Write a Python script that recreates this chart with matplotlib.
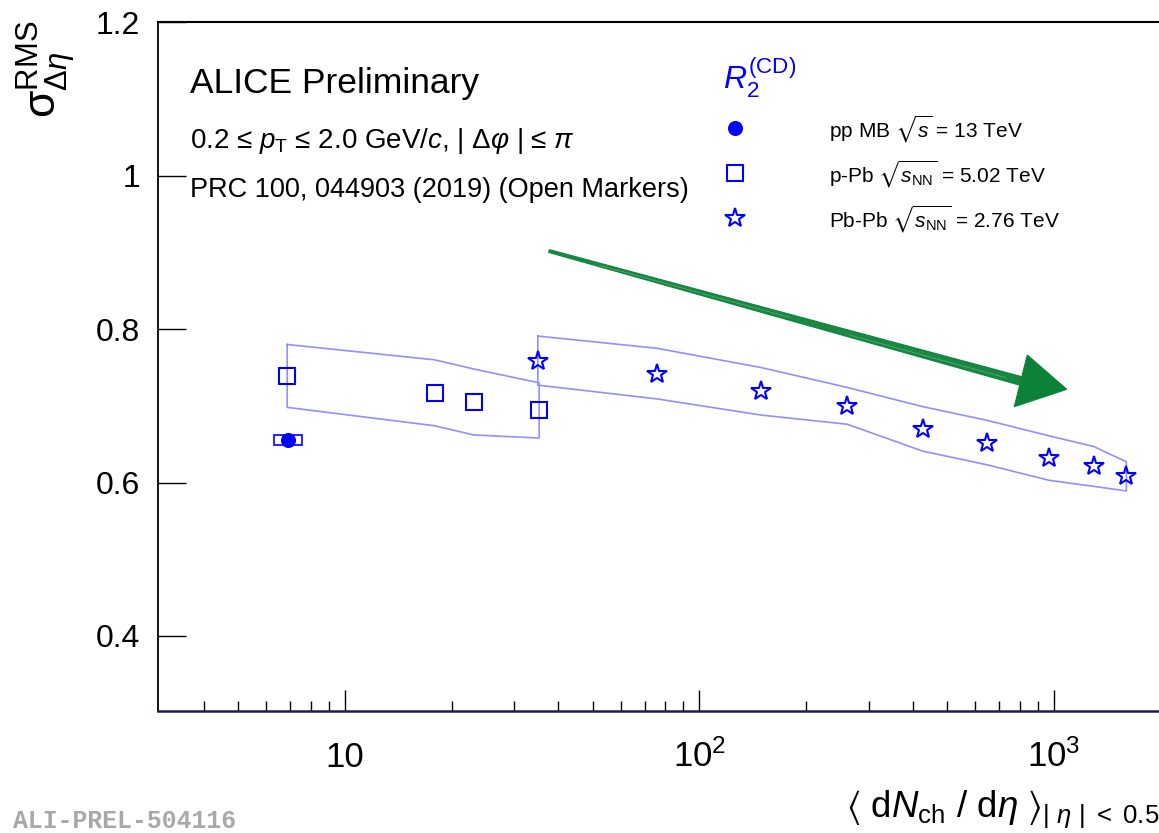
import matplotlib
matplotlib.use("Agg")
import matplotlib.pyplot as plt
from matplotlib.ticker import FixedLocator, NullLocator
from matplotlib.patches import Rectangle, Polygon
from matplotlib.lines import Line2D

# ---- data -------------------------------------------------------------
pp_x = [6.92]
pp_y = [0.655]
pp_sys = [0.0066]

ppb_x = [6.87, 17.9, 23.1, 35.3]
ppb_y = [0.739, 0.717, 0.705, 0.694]
ppb_sys = [0.041, 0.043, 0.043, 0.036]

pbpb_x = [35, 76, 149, 261, 426, 649, 966, 1294, 1601]
pbpb_y = [0.759, 0.742, 0.719, 0.700, 0.670, 0.652, 0.632, 0.621, 0.608]
pbpb_sys = [0.032, 0.033, 0.031, 0.024, 0.029, 0.029, 0.029, 0.026, 0.019]

x_major = [10, 100, 1000]
x_major_labels = ["10", r"$10^{2}$", r"$10^{3}$"]
x_minor = [4, 5, 6, 7, 8, 9, 20, 30, 40, 50, 60, 70, 80, 90,
           200, 300, 400, 500, 600, 700, 800, 900]
y_major = [0.4, 0.6, 0.8, 1.0, 1.2]
y_major_labels = ["0.4", "0.6", "0.8", "1", "1.2"]

legend_labels = [r"pp MB $\sqrt{s}$ = 13 TeV",
                 r"p-Pb $\sqrt{s_{\rm NN}}$ = 5.02 TeV",
                 r"Pb-Pb $\sqrt{s_{\rm NN}}$ = 2.76 TeV"]

# ---- style ------------------------------------------------------------
plt.rcParams["font.family"] = ["Liberation Sans", "DejaVu Sans"]
plt.rcParams["mathtext.fontset"] = "custom"
plt.rcParams["mathtext.rm"] = "Liberation Sans"
plt.rcParams["mathtext.it"] = "Liberation Sans:italic"
plt.rcParams["mathtext.bf"] = "Liberation Sans:bold"
plt.rcParams["mathtext.sf"] = "Liberation Sans"
plt.rcParams["mathtext.fallback"] = "stixsans"

W, H = 1159, 833
BLUE = "#0000ff"
BAND = "#9090ff"
GREEN = "#0b8238"

fig = plt.figure(figsize=(W / 100, H / 100), dpi=100)
ax_l, ax_r, ax_t, ax_b = 158, 1159, 22.3, 711
ax = fig.add_axes([ax_l / W, 1 - ax_b / H, (ax_r - ax_l) / W, (ax_b - ax_t) / H])


def fpx(x, y):
    """Pixel position (origin top-left) to figure fraction."""
    return x / W, 1 - y / H


ax.set_xscale("log")
ax.set_xlim(2.968, 1979)
ax.set_ylim(0.302, 1.2002)


def band(xs, ys, sys):
    """Open outline of the systematic-uncertainty band."""
    up = [y + s for y, s in zip(ys, sys)]
    lo = [y - s for y, s in zip(ys, sys)]
    px = list(xs) + list(xs[::-1]) + [xs[0]]
    py = up + lo[::-1] + [up[0]]
    ax.plot(px, py, color=BAND, lw=1.2, zorder=2)


band(ppb_x, ppb_y, ppb_sys)
band(pbpb_x, pbpb_y, pbpb_sys)

# pp systematic box
for x, y, s in zip(pp_x, pp_y, pp_sys):
    ax.add_patch(Rectangle((x * 0.91, y - s), x * 0.18, 2 * s,
                           fill=False, edgecolor=BLUE, lw=1.2, zorder=3))

ms_pp = dict(marker="o", ms=9.8, color=BLUE, mfc=BLUE, mec=BLUE, ls="none", zorder=5)
ms_ppb = dict(marker="s", ms=11.8, color=BLUE, mfc="none", mec=BLUE, mew=1.5, ls="none", zorder=5)
ms_pbpb = dict(marker="*", ms=15, color=BLUE, mfc="none", mec=BLUE, mew=1.5, ls="none", zorder=5)

ax.plot(pp_x, pp_y, **ms_pp)
ax.plot(ppb_x, ppb_y, **ms_ppb)
ax.plot(pbpb_x, pbpb_y, **ms_pbpb)

# ---- axes decoration --------------------------------------------------
ax.spines["right"].set_visible(False)
ax.spines["top"].set_color("black")
ax.spines["top"].set_linewidth(1.5)
ax.spines["left"].set_color("black")
ax.spines["left"].set_linewidth(1.3)
ax.spines["bottom"].set_color("#1c1c50")
ax.spines["bottom"].set_linewidth(1.8)

ax.xaxis.set_major_locator(FixedLocator(x_major))
ax.xaxis.set_minor_locator(FixedLocator(x_minor))
ax.set_xticklabels(x_major_labels)
ax.xaxis.set_minor_formatter(plt.NullFormatter())
ax.yaxis.set_major_locator(FixedLocator(y_major))
ax.yaxis.set_minor_locator(NullLocator())
ax.set_yticklabels(y_major_labels)

ax.tick_params(axis="x", which="major", direction="in", length=15, width=1.0,
               labelsize=25, pad=40.3, top=False)
ax.tick_params(axis="x", which="minor", direction="in", length=7.5, width=1.0, top=False)
ax.tick_params(axis="y", which="major", direction="in", length=20, width=1.0,
               labelsize=23, pad=13, right=False)
for t in ax.xaxis.get_major_ticks():
    t.label1.set_verticalalignment("baseline")

# axis titles
fig.text(*fpx(47, 20), r"${\rm \sigma}^{\rm RMS}_{\Delta\eta}$", rotation=90,
         ha="center", va="top", fontsize=32)
fig.text(*fpx(1159, 817),
         r"$\langle\ {\rm d}N_{\rm ch}\ /\ {\rm d}\eta\ \rangle_{|\ \eta\ |\ <\ 0.5}$",
         ha="right", va="baseline", fontsize=26.5)

# header texts
fig.text(*fpx(190, 93.3), "ALICE Preliminary", fontsize=25.5, va="baseline")
fig.text(*fpx(190, 148.3),
         r"0.2 ≤ $p_{\rm T}$ ≤ 2.0 GeV/$c$, | $\Delta\varphi$ | ≤ $\pi$",
         fontsize=20, va="baseline")
fig.text(*fpx(190, 197.3), "PRC 100, 044903 (2019) (Open Markers)",
         fontsize=19.5, va="baseline")

# legend
fig.text(*fpx(723, 89.3), r"$R_{2}^{\rm (CD)}$", color=BLUE, fontsize=23, va="baseline")
leg_rows = [127.5, 172.5, 217.5]
for yrow, style, label in zip(leg_rows, [ms_pp, ms_ppb, ms_pbpb], legend_labels):
    lx, ly = fpx(735, yrow)
    fig.add_artist(Line2D([lx], [ly], transform=fig.transFigure, **style))
    fig.text(*fpx(829, yrow + 10), label, fontsize=15, va="baseline")

# trend arrow (shaft + head)
shaft = [fpx(549.4, 249.6), fpx(1022.2, 376.8), fpx(1019.8, 385.2), fpx(548.6, 252.4)]
fig.add_artist(Polygon(shaft, closed=True, transform=fig.transFigure,
                       facecolor=GREEN, edgecolor=GREEN, lw=0.8, alpha=0.95))
head = [fpx(1027.3, 355), fpx(1066.7, 389.3), fpx(1014.3, 406.7)]
fig.add_artist(Polygon(head, closed=True, transform=fig.transFigure,
                       facecolor=GREEN, edgecolor=GREEN, lw=0.8))
# light brush streaks along the shaft
for (x0, y0), (x1, y1) in [((600, 265.5), (790, 317.5)), ((850, 335.2), (1005, 377.5))]:
    sx0, sy0 = fpx(x0, y0)
    sx1, sy1 = fpx(x1, y1)
    fig.add_artist(Line2D([sx0, sx1], [sy0, sy1], transform=fig.transFigure,
                          color="#5fb07f", lw=0.6, alpha=0.8))

# preliminary figure id
fig.text(*fpx(13, 828.3), "ALI-PREL-504116", family="Liberation Mono",
         weight="bold", color="#a8a8a8", fontsize=17.8, va="baseline")

fig.savefig("out.png", dpi=100)
